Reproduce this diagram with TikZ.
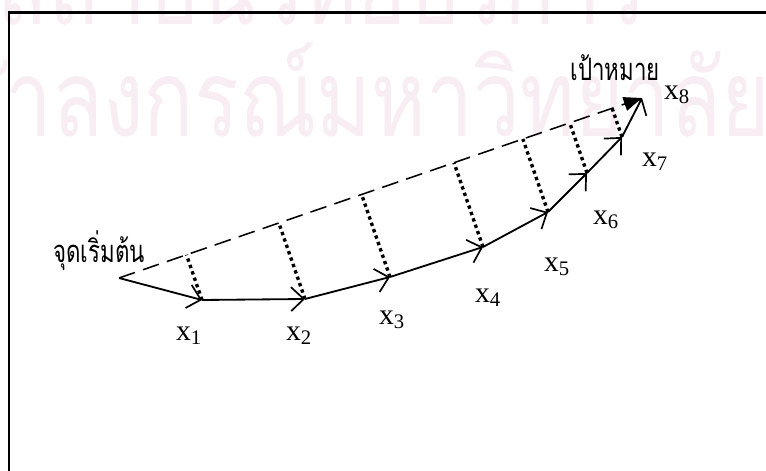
\documentclass[tikz,border=0pt]{standalone}
\usepackage{fontspec}
\setmainfont{Liberation Serif}
\newfontfamily\thaifont[Script=Thai,FakeStretch=0.78]{Loma}
\newfontfamily\thainarrow[Script=Thai,FakeStretch=0.72]{Loma}
\usepackage{xcolor}
\usetikzlibrary{arrows.meta, calc}
\definecolor{wmark}{RGB}{248,237,243}

\begin{document}
\begin{tikzpicture}[
    x=0.025cm, y=-0.025cm,
    frame/.style={line width=1.8pt, black},
    vec/.style={-{Straight Barb[length=9pt, width=17pt, line width=1.2pt]}, line width=1.3pt},
    direct/.style={-{Triangle[length=13pt, width=10pt]}, line width=1.1pt, dash pattern=on 12pt off 6pt},
    proj/.style={line width=2.4pt, dash pattern=on 2.4pt off 2.4pt},
    xlabel/.style={font=\fontsize{21}{24}\selectfont, inner sep=0pt},
    thlabel/.style={font=\thainarrow\fontsize{22}{25}\selectfont, inner sep=0pt, anchor=base},
    wm/.style={font=\thaifont\fontsize{76}{80}\selectfont, text=wmark, inner sep=0pt, anchor=base}
  ]
  \useasboundingbox (0,0) rectangle (766,471);

  \begin{scope}
    \clip (0,0) rectangle (766,471);
    \node[wm] (wm1) at (322,25) {\smash{สถาบันวิทยบริการ}};
    \node[wm] (wm2) at (335,137) {\smash{จุฬาลงกรณ์มหาวิทยาลัย}};
  \end{scope}
  \draw[frame] (9,500) |- (800,12.5);

  \coordinate (s) at (119,278);
  \coordinate (p1) at (202,300);
  \coordinate (p2) at (305,299);
  \coordinate (p3) at (390,277);
  \coordinate (p4) at (483,247);
  \coordinate (p5) at (548,212);
  \coordinate (p6) at (587,173);
  \coordinate (p7) at (622,137);
  \coordinate (p8) at (642,98);

  \node[thlabel] (start) at (99,262) {จุดเริ่มต้น};
  \node[thlabel] (goal) at (615,81) {เป้าหมาย};

  \node[xlabel] (x1) at (189,336) {x\textsubscript{1}};
  \node[xlabel] (x2) at (299,336) {x\textsubscript{2}};
  \node[xlabel] (x3) at (392,320) {x\textsubscript{3}};
  \node[xlabel] (x4) at (488,298) {x\textsubscript{4}};
  \node[xlabel] (x5) at (557,267) {x\textsubscript{5}};
  \node[xlabel] (x6) at (606,220) {x\textsubscript{6}};
  \node[xlabel] (x7) at (655,162) {x\textsubscript{7}};
  \node[xlabel] (x8) at (677,95) {x\textsubscript{8}};

  \draw[direct] (s) -- (p8);
  \foreach \i in {1,...,7}
    \draw[proj] (p\i) -- ($(s)!(p\i)!(p8)$);

  \draw[vec] (s) -- (p1);
  \foreach \a/\b in {1/2, 2/3, 3/4, 4/5, 5/6, 6/7, 7/8}
    \draw[vec] (p\a) -- (p\b);

\end{tikzpicture}
\end{document}
